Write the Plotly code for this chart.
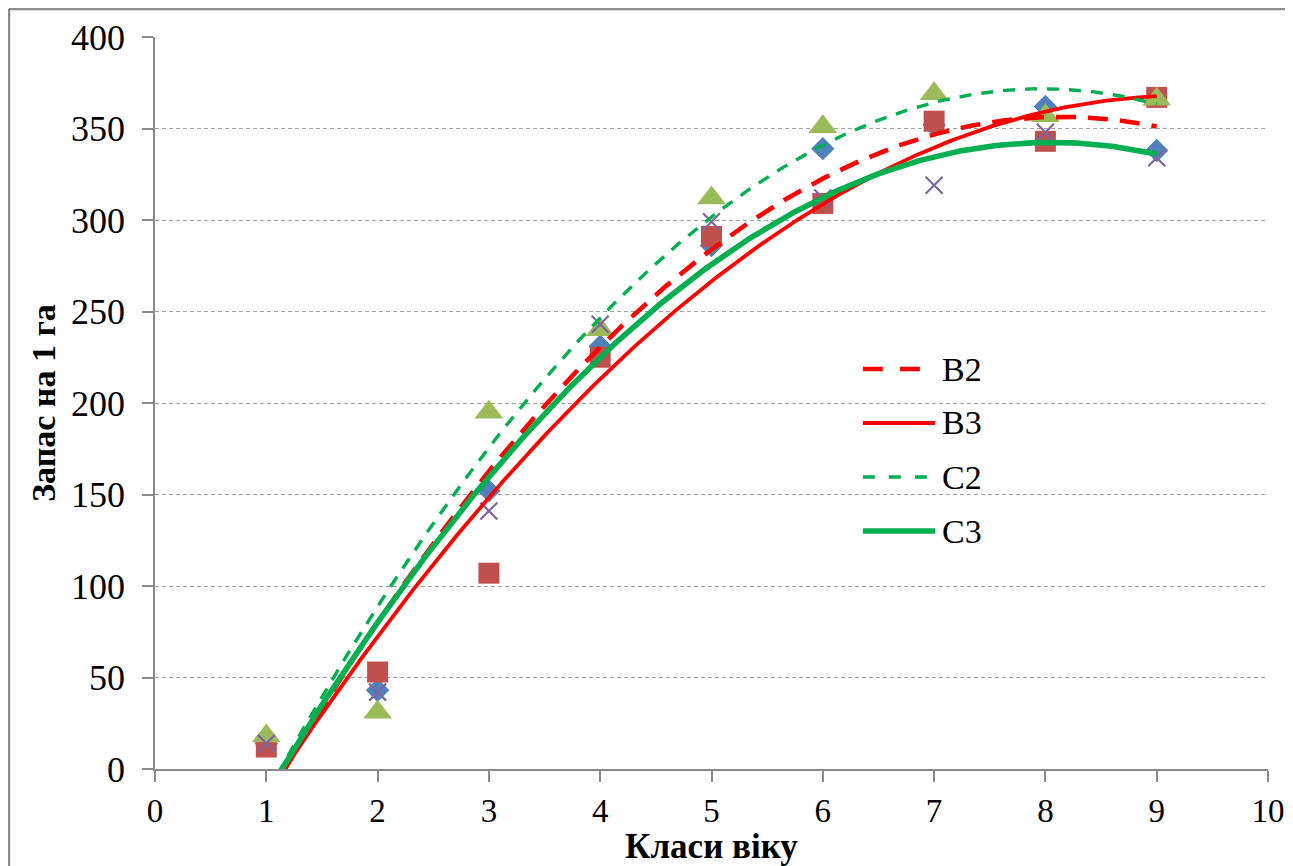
import numpy as np
import plotly.graph_objects as go

# ---- data ----
age_classes = [1, 2, 3, 4, 5, 6, 7, 8, 9]
b2_values = [14, 43, 152, 231, 286, 339, 352, 362, 338]   # blue diamonds
b3_values = [12, 53, 107, 225, 291, 309, 354, 343, 367]   # red squares
c2_values = [18, 31, 195, 240, 312, 351, 369, 357, 366]   # green triangles
c3_values = [14, 42, 141, 243, 299, 312, 319, 348, 334]   # purple crosses

series_names = ["B2", "B3", "C2", "C3"]
x_ticks = list(range(0, 11))
y_ticks = list(range(0, 401, 50))

# ---- styles ----
marker_styles = {
    "B2": dict(symbol="diamond", size=18, color="#4F81BD"),
    "B3": dict(symbol="square", size=21, color="#C0504D"),
    "C2": dict(symbol="triangle-up", size=25, color="#9BBB59"),
    "C3": dict(symbol="x-thin", size=17, color="#8064A2", line=dict(width=2.2, color="#8064A2")),
}
line_styles = {
    "B2": dict(color="#FF0000", width=4.6, dash="20px,12px"),
    "B3": dict(color="#FF0000", width=3.8, dash="solid"),
    "C2": dict(color="#00B050", width=3.4, dash="12px,10px"),
    "C3": dict(color="#00B050", width=5.6, dash="solid"),
}
legend_dash = {"B2": "20px,17px", "B3": "solid", "C2": "12px,14px", "C3": "solid"}

values = {"B2": b2_values, "B3": b3_values, "C2": c2_values, "C3": c3_values}

FONT = "Liberation Serif, Times New Roman, serif"

fig = go.Figure()

# markers
for name in series_names:
    fig.add_trace(go.Scatter(
        x=age_classes, y=values[name], mode="markers", name=name,
        marker=marker_styles[name], showlegend=False, cliponaxis=False,
    ))

# polynomial (order 2) trend lines fitted to each series
x_fit = np.linspace(min(age_classes), max(age_classes), 300)
for name in series_names:
    coeffs = np.polyfit(age_classes, values[name], 2)
    y_fit = np.polyval(coeffs, x_fit)
    fig.add_trace(go.Scatter(
        x=x_fit, y=y_fit, mode="lines", name=name,
        line=line_styles[name], showlegend=False, hoverinfo="skip",
    ))

# manual legend (long line samples like the original)
legend_y = [0.5464, 0.4727, 0.3989, 0.3251]
shapes = []
annotations = []
for name, ly in zip(series_names, legend_y):
    st = line_styles[name]
    shapes.append(dict(type="line", xref="paper", yref="paper",
                       x0=0.636, x1=0.701, y0=ly, y1=ly,
                       line=dict(color=st["color"], width=st["width"],
                                 dash=legend_dash[name])))
    annotations.append(dict(text=name, xref="paper", yref="paper",
                            x=0.705, y=ly, xanchor="left", yanchor="middle",
                            showarrow=False, font=dict(family=FONT, size=34, color="black")))

# outer chart border: only top and left edges are visible in the picture
border = dict(color="#8C8C8C", width=2.5)
shapes.append(dict(type="line", xref="paper", yref="paper",
                   x0=-0.1312, x1=1.03, y0=1.0383, y1=1.0383, line=border, layer="below"))
shapes.append(dict(type="line", xref="paper", yref="paper",
                   x0=-0.1312, x1=-0.1312, y0=-0.2, y1=1.0383, line=border, layer="below"))

axis_common = dict(
    showline=True, linecolor="#8A8A8A", linewidth=1.5,
    ticks="outside", ticklen=11, tickcolor="#8A8A8A", tickwidth=1.5,
    zeroline=False, fixedrange=True,
)

# page body has an 8px margin, so the figure is offset by 8px
fig.update_layout(
    width=1285, height=858,
    margin=dict(l=147, r=25, t=29, b=97, autoexpand=False),
    paper_bgcolor="white", plot_bgcolor="white",
    showlegend=False,
    shapes=shapes, annotations=annotations,
    xaxis=dict(
        range=[0, 10], tickvals=x_ticks, showgrid=False,
        tickfont=dict(family=FONT, size=33, color="black"),
        title=dict(text="<b>Класи віку</b>", font=dict(family=FONT, size=35, color="black"), standoff=0),
        ticklabelstandoff=1,
        **axis_common,
    ),
    yaxis=dict(
        range=[0, 400], tickvals=y_ticks, showgrid=True,
        gridcolor="#A0A0A0", gridwidth=1, griddash="4px,3px",
        tickfont=dict(family=FONT, size=36, color="black"),
        title=dict(text="<b>Запас на 1 га</b>", font=dict(family=FONT, size=34, color="black"), standoff=5),
        ticklabelstandoff=10,
        **axis_common,
    ),
)

fig.write_html("out.html")
